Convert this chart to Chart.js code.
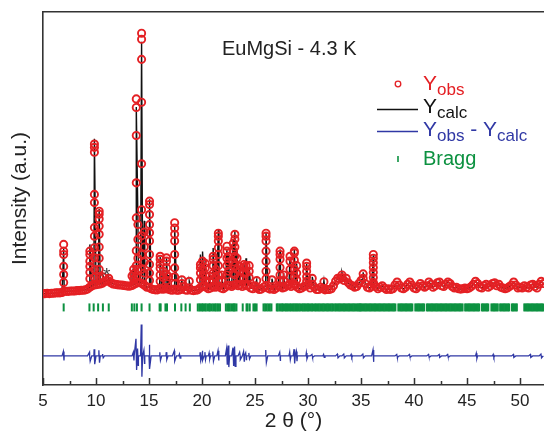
<!DOCTYPE html>
<html><head><meta charset="utf-8">
<script src="https://cdn.jsdelivr.net/npm/chart.js@4"></script>
<style>html,body{margin:0;padding:0;background:#fff;overflow:hidden}</style>
</head><body>
<canvas id="c" width="544" height="433"></canvas>
<script>
// ---------- data (2θ in degrees, intensity in a.u.) ----------
const chartTitle = 'EuMgSi - 4.3 K';
const xTitle = '2 \u03B8 (\u00B0)';
const yTitle = 'Intensity (a.u.)';
const xMajorTicks = [5, 10, 15, 20, 25, 30, 35, 40, 45, 50];
const xMinorTicks = [7.5, 12.5, 17.5, 22.5, 27.5, 32.5, 37.5, 42.5, 47.5];

// background level of the pattern, sampled every 0.2° from 5.0° to 52.2°
const bgStart = 5.0, bgStep = 0.2;
const background = [
  5,5,6,5,6,6,7,7,7,8,
  12,11,11,12,12,12,13,13,14,14,
  15,17,22,25,28,29,30,31,33,37,
  40,39,34,31,30,29,28,28,27,26,
  25,25,27,30,33,35,34,31,27,22,
  22,18,16,15,15,18,17,17,18,17,
  15,14,17,14,14,16,22,15,14,20,
  14,13,14,15,20,24,26,22,18,20,
  24,22,23,25,20,18,22,28,27,24,
  28,30,26,28,24,30,26,28,20,18,
  26,20,16,17,22,26,20,17,18,16,
  20,26,24,20,22,26,28,24,30,28,
  22,18,20,24,26,28,20,30,22,16,
  16,22,18,15,16,16,18,26,38,46,
  44,48,40,46,34,28,26,22,24,32,
  40,46,32,22,20,24,30,24,18,22,
  26,20,16,18,16,18,28,36,28,20,
  18,22,30,36,28,20,18,24,32,26,
  22,26,36,30,22,26,34,36,26,24,
  30,36,32,24,20,22,18,17,18,20,
  18,20,24,30,38,32,22,20,26,30,
  22,26,32,34,26,30,22,20,18,20,
  24,28,36,28,20,22,20,26,22,20,
  28,30,24,20,30,38,32
];

// reflections: position, calculated peak top, observed points on the peak
const peakTheta = [6.95,9.42,9.85,10.3,10.65,11.2,13.4,13.55,13.8,13.95,14.3,14.55,15.05,16.05,16.35,16.65,16.85,17.42,18.1,18.8,
  19.85,20.05,20.3,20.7,21.05,21.3,21.54,21.85,22.35,22.5,22.95,23.1,23.3,23.58,23.95,24.15,24.45,25.16,26.04,26.6,
  27.36,27.7,28.3,28.71,28.93,29.87,30.4,31.5,33.2,35.2,36.16];
const peakCalc = [125,137,420,232,55,48,60,75,505,210,680,200,258,103,70,100,55,186,40,38,
  110,118,95,60,127,80,178,60,125,110,150,172,120,80,85,100,75,42,168,45,
  123,60,100,125,85,85,50,40,62,62,108];
const peakObs = [
  [137,119,110,78,56,35],[119,110,92,78,62,45],[406,397,384,271,249,182,159,128,101,70,48],[226,218,205,186,164,130,100,70,48],
  [50],[46],[52],[70,58,45],[527,504,429,302,208,120,80,50],[190,150,100,70],[703,687,633,518,353,230,160,110,70],
  [170,130,90,60],[253,244,217,190,168,146,110,83,60,40],[105,97,84,73,55,38],[65,48],[101,92,74,56,40],[50],
  [195,181,164,146,110,74,50,32],[42,32],[38],
  [83,74,60,42],[92,70,50],[86,74,55,40],[52,38],[105,97,80,60,42],[70,50],[167,159,146,128,110,80,55,40],[55,40],
  [132,119,100,80,55],[105,90,65],[140,120,90,60],[164,151,130,105,80,55],[100,70],[78,65,48],[83,75,60,45],[80,60],
  [80,65,48],[40],[167,159,146,119,92,65,45],[42],
  [119,110,97,75,55,40],[55,40],[105,92,70,50],[119,114,95,70,50],[80,60,42],[87,78,65,50,38],[46],[37],[55],[58],
  [110,100,88,75,62,48,35]
];

// difference curve: excursions up / down at each position
const diffOffset = -162;
const diffTheta = [6.95,9.42,9.85,10.3,10.65,13.55,13.8,13.95,14.3,14.55,15.05,16.05,16.65,17.42,17.9,19.85,20.05,20.3,20.7,21.05,
  21.54,22.35,22.5,22.95,23.1,23.58,23.95,24.15,24.45,26.04,27.36,28.3,28.71,28.93,29.87,30.4,31.5,32.8,33.4,34.1,
  35.2,36.16,38.4,39.6,41.4,42.4,43.2,45.9,47.5,49.4,51.0,52.0];
const diffUp = [12,10,18,15,5,10,46,20,84,15,30,10,10,14,5,10,14,10,8,12,
  14,20,28,22,25,10,12,8,8,16,10,10,18,12,8,4,4,5,5,4,
  5,16,4,4,4,4,4,7,4,4,4,5];
const diffDown = [12,14,22,18,5,12,38,25,56,20,35,12,10,14,6,12,12,10,8,14,
  12,22,30,25,28,10,14,10,8,18,12,10,20,14,8,4,4,5,5,4,
  5,16,4,4,4,4,4,7,4,4,4,5];

// Bragg reflection positions
const braggLevel = -32;
const braggTheta = [6.95,9.38,9.78,10.2,10.65,11.2,13.38,13.62,13.86,14.3,15.05,16.0,16.1,16.55,16.7,17.45,18.05,18.45,18.85,
  19.6,19.75,19.85,20.0,20.1,20.25,20.35,20.5,20.65,20.75,20.9,21.05,21.2,21.3,21.45,21.55,21.7,
  22.25,22.4,22.5,22.6,22.75,22.9,23.0,23.1,23.25,23.84,24.2,24.3,24.5,24.85,25.0,25.15,
  25.8,25.95,26.1,26.25,26.4,26.55,
  27.05,27.15,27.3,27.42,27.55,27.65,27.8,27.92,28.05,28.15,
  28.3,28.42,28.55,28.65,28.78,28.9,29.0,29.12,29.25,
  29.4,29.52,29.65,29.75,29.88,30.0,30.12,30.25,30.38,30.5,
  30.66,30.78,30.9,31.02,31.15,31.28,31.4,31.52,31.65,31.78,31.9,32.02,32.15,32.28,32.39,
  32.55,32.67,32.79,32.91,33.03,33.15,33.27,33.39,33.51,33.63,33.75,33.87,33.99,34.11,34.23,34.35,34.47,34.59,34.71,34.83,34.9,
  35.0,35.12,35.24,35.36,35.48,35.6,35.72,35.84,35.96,36.08,36.2,36.32,36.44,36.56,36.68,36.8,36.92,37.04,37.16,37.28,
  37.4,37.52,37.64,37.76,37.88,38.0,38.12,38.24,38.52,38.64,38.76,38.88,39.0,39.12,39.24,39.36,39.48,39.6,39.72,39.84,
  40.12,40.24,40.36,40.48,40.6,40.72,40.84,40.96,41.22,41.34,41.46,41.58,41.7,41.82,41.94,42.06,42.18,42.3,42.42,42.54,
  42.66,42.78,42.9,43.02,43.14,43.26,43.38,43.5,43.62,43.74,43.86,43.98,44.1,44.22,44.34,44.46,44.58,44.82,44.94,45.06,
  45.18,45.3,45.42,45.54,45.66,45.78,45.9,46.02,46.14,46.4,46.52,46.64,46.76,46.88,47.0,47.3,47.42,47.54,47.66,47.78,
  47.9,48.12,48.24,48.36,48.48,48.6,48.72,48.84,48.96,49.22,49.34,49.46,49.58,49.7,50.4,50.52,50.64,50.76,50.88,51.0,
  51.12,51.24,51.36,51.48,51.6,51.72,51.84,51.96,52.08,52.2];

const starMark = {theta: 11.0, value: 63};

// ---------- build library tables ----------
const bgPts = background.map((v, i) => ({x: +(bgStart + i * bgStep).toFixed(2), y: v}));
const obsPts = bgPts.concat(peakTheta.flatMap((t, k) => peakObs[k].map(v => ({x: t, y: v}))));
const calcPts = bgPts.concat(peakTheta.map((t, k) => ({x: t, y: peakCalc[k]})))
  .sort((a, b) => a.x - b.x);
const diffPts = bgPts.map(p => ({x: p.x, y: diffOffset}))
  .concat(diffTheta.flatMap((t, k) => [{x: t - 0.03, y: diffOffset + diffUp[k]}, {x: t + 0.03, y: diffOffset - diffDown[k]}]))
  .sort((a, b) => a.x - b.x);
const braggPts = braggTheta.map(t => ({x: t, y: braggLevel}));

const RED = 'rgb(228,32,36)', BLACK = '#111', BLUE = 'rgb(48,56,165)', GREEN = 'rgb(12,145,64)';
const FONT = '"Liberation Sans", Arial, sans-serif';

function subText(ctx, x, y, parts, big, small) {
  for (const [txt, sub] of parts) {
    ctx.font = big + 'px ' + FONT;
    ctx.fillText(txt, x, y);
    x += ctx.measureText(txt).width;
    if (sub) {
      ctx.font = small + 'px ' + FONT;
      ctx.fillText(sub, x, y + 5);
      x += ctx.measureText(sub).width;
    }
  }
}

const decor = {
  id: 'decor',
  afterDraw(chart) {
    const {ctx, chartArea: a, scales: {x, y}} = chart;
    ctx.save();
    // inward tick marks
    ctx.strokeStyle = '#333'; ctx.lineWidth = 1.5;
    ctx.beginPath();
    xMajorTicks.forEach(t => { const p = Math.round(x.getPixelForValue(t)) + 0.5; ctx.moveTo(p, a.bottom); ctx.lineTo(p, a.bottom - 7); });
    xMinorTicks.forEach(t => { const p = Math.round(x.getPixelForValue(t)) + 0.5; ctx.moveTo(p, a.bottom); ctx.lineTo(p, a.bottom - 4); });
    ctx.stroke();
    // title inside plot
    ctx.fillStyle = '#222'; ctx.textBaseline = 'alphabetic'; ctx.textAlign = 'left';
    ctx.font = '20px ' + FONT;
    ctx.fillText(chartTitle, 222, 55);
    // asterisk
    ctx.fillStyle = '#444'; ctx.font = '19px ' + FONT; ctx.textAlign = 'center';
    ctx.fillText('*', x.getPixelForValue(starMark.theta), y.getPixelForValue(starMark.value) + 9);
    ctx.textAlign = 'left';
    // legend
    ctx.strokeStyle = RED; ctx.lineWidth = 1.3;
    ctx.beginPath(); ctx.arc(398, 84, 2.8, 0, Math.PI * 2); ctx.stroke();
    ctx.fillStyle = RED; subText(ctx, 423, 90, [['Y', 'obs']], 21, 17);
    ctx.strokeStyle = BLACK; ctx.lineWidth = 1.5;
    ctx.beginPath(); ctx.moveTo(377, 109.5); ctx.lineTo(418, 109.5); ctx.stroke();
    ctx.fillStyle = BLACK; subText(ctx, 423, 113, [['Y', 'calc']], 21, 17);
    ctx.strokeStyle = BLUE; ctx.lineWidth = 1.5;
    ctx.beginPath(); ctx.moveTo(377, 131.5); ctx.lineTo(418, 131.5); ctx.stroke();
    ctx.fillStyle = BLUE; subText(ctx, 423, 136, [['Y', 'obs'], [' - ', null], ['Y', 'calc']], 21, 17);
    ctx.strokeStyle = GREEN; ctx.lineWidth = 1.6;
    ctx.beginPath(); ctx.moveTo(398, 156); ctx.lineTo(398, 162); ctx.stroke();
    ctx.fillStyle = GREEN; ctx.font = '20px ' + FONT; ctx.fillText('Bragg', 423, 165);
    ctx.restore();
  }
};

new Chart(document.getElementById('c'), {
  type: 'scatter',
  data: {
    datasets: [
      {label: 'Ycalc', data: calcPts, order: 5, showLine: true, borderColor: BLACK, borderWidth: 1.4,
        pointRadius: 0, tension: 0},
      {label: 'Yobs', data: obsPts, order: 4, showLine: false, pointStyle: 'circle', pointRadius: 3.6,
        pointBorderWidth: 1.9, pointBorderColor: RED, pointBackgroundColor: 'rgba(0,0,0,0)'},
      {label: 'Yobs - Ycalc', data: diffPts, order: 2, showLine: true, borderColor: BLUE, borderWidth: 1.3,
        pointRadius: 0, tension: 0},
      {label: 'Bragg', data: braggPts, order: 1, showLine: false, pointStyle: 'line', rotation: 90,
        pointRadius: 4, pointBorderWidth: 2, pointBorderColor: GREEN, pointBackgroundColor: GREEN}
    ]
  },
  options: {
    responsive: false, animation: false, devicePixelRatio: 1, events: [],
    layout: {autoPadding: false, padding: {left: 10, top: 12, right: 0, bottom: 1}},
    plugins: {legend: {display: false}, tooltip: {enabled: false}},
    scales: {
      x: {type: 'linear', position: 'bottom', min: 5, max: 52.26,
        afterFit(s) { s.height = 47; s.paddingLeft = 0; s.paddingRight = 0; },
        border: {display: true, color: '#333', width: 1.6},
        grid: {display: false, drawTicks: false},
        ticks: {stepSize: 5, includeBounds: false, padding: 6, color: '#222', font: {family: FONT, size: 17}},
        title: {display: true, text: xTitle, color: '#222', font: {family: FONT, size: 21, lineHeight: 1}, padding: 0}},
      xTop: {type: 'linear', position: 'top', min: 5, max: 52.26,
        afterFit(s) { s.height = 0; s.paddingLeft = 0; s.paddingRight = 0; },
        border: {display: true, color: '#333', width: 1.6},
        grid: {display: false, drawTicks: false}, ticks: {display: false}},
      y: {type: 'linear', min: -240, max: 760,
        afterFit(s) { s.width = 33; },
        border: {display: true, color: '#333', width: 1.6},
        grid: {display: false, drawTicks: false}, ticks: {display: false},
        title: {display: true, text: yTitle, color: '#222', font: {family: FONT, size: 21, lineHeight: 1}, padding: {top: 0, bottom: 13}}}
    }
  },
  plugins: [decor]
});
</script>
</body></html>
